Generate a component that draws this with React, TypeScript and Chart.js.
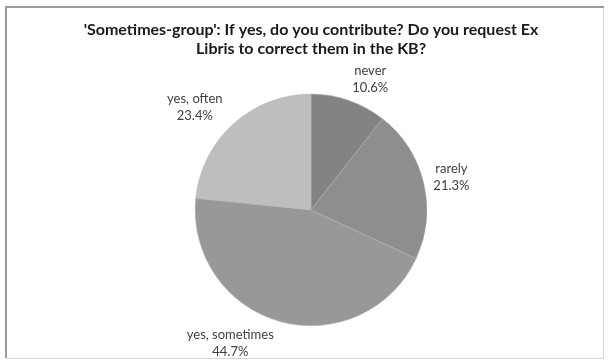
import React, { useEffect, useRef } from "react";
import { Chart, registerables } from "chart.js";

Chart.register(...registerables);

const TITLE_LINES = [
  "'Sometimes-group': If yes, do you contribute? Do you request Ex",
  "Libris to correct them in the KB?",
];
const CATEGORIES = ["never", "rarely", "yes, sometimes", "yes, often"];
const VALUES = [10.6, 21.3, 44.7, 23.4];
const COLORS = ["#838383", "#8e8e8e", "#989898", "#bebebe"];

const LABEL_FONT = "13px Lato, 'Open Sans', sans-serif";
const LINE_H = 17;

const framePlugin = {
  id: "frame",
  beforeDraw(chart: any) {
    const ctx = chart.ctx;
    ctx.save();
    ctx.fillStyle = "#ffffff";
    ctx.fillRect(0, 0, chart.width, chart.height);
    ctx.fillStyle = "#d6d6d6";
    ctx.fillRect(6, 358, 598, 1);
    ctx.fillRect(603, 7, 1, 351);
    ctx.fillStyle = "#9a9a9a";
    ctx.fillRect(5, 6, 599, 2);
    ctx.fillRect(5, 6, 2, 352);
    ctx.restore();
  },
};

const labelPlugin = {
  id: "outLabels",
  afterDatasetsDraw(chart: any) {
    const ctx = chart.ctx;
    const meta = chart.getDatasetMeta(0);
    const data = chart.data.datasets[0].data as number[];
    const total = data.reduce((a, b) => a + b, 0);
    ctx.save();
    ctx.font = LABEL_FONT;
    ctx.fillStyle = "#404040";
    ctx.textBaseline = "middle";
    ctx.textAlign = "center";
    meta.data.forEach((arc: any, i: number) => {
      const p = arc.getProps(["x", "y", "startAngle", "endAngle", "outerRadius"], true);
      const mid = (p.startAngle + p.endAngle) / 2;
      const r = p.outerRadius + 10;
      const ax = p.x + Math.cos(mid) * r;
      const ay = p.y + Math.sin(mid) * r;
      const lines = [String(chart.data.labels[i]), ((data[i] / total) * 100).toFixed(1) + "%"];
      const w = Math.max(...lines.map((l) => ctx.measureText(l).width));
      const h = LINE_H * lines.length;
      const cx = Math.cos(mid) >= 0 ? ax + w / 2 : ax - w / 2 - 4;
      const cy = ay + Math.sin(mid) * (h / 2) * 0.75;
      lines.forEach((l, k) => {
        ctx.fillText(l, cx, cy - h / 2 + LINE_H / 2 + k * LINE_H);
      });
    });
    ctx.restore();
  },
};

export default function App() {
  const ref = useRef<HTMLCanvasElement | null>(null);
  useEffect(() => {
    if (!ref.current) return;
    const chart = new Chart(ref.current, {
      type: "pie",
      data: {
        labels: CATEGORIES,
        datasets: [
          {
            data: VALUES,
            backgroundColor: COLORS,
            borderColor: "#b0b0b0",
            borderWidth: 0.5,
          },
        ],
      },
      options: {
        animation: false,
        responsive: false,
        maintainAspectRatio: false,
        layout: { padding: { left: 14, right: 0, top: 0, bottom: 34 } },
        plugins: {
          legend: { display: false },
          tooltip: { enabled: false },
          title: {
            display: true,
            text: TITLE_LINES,
            color: "#1a1a1a",
            font: { family: "Lato, 'Open Sans', sans-serif", size: 16, weight: "bold", lineHeight: 1.15 },
            padding: { top: 21, bottom: 36 },
          },
        },
      },
      plugins: [framePlugin, labelPlugin],
    });
    return () => chart.destroy();
  }, []);
  return (
    <div style={{ position: "absolute", left: 0, top: 0, width: 608, height: 360, background: "#fff" }}>
      <canvas ref={ref} width={608} height={360} style={{ display: "block", width: 608, height: 360 }} />
    </div>
  );
}
